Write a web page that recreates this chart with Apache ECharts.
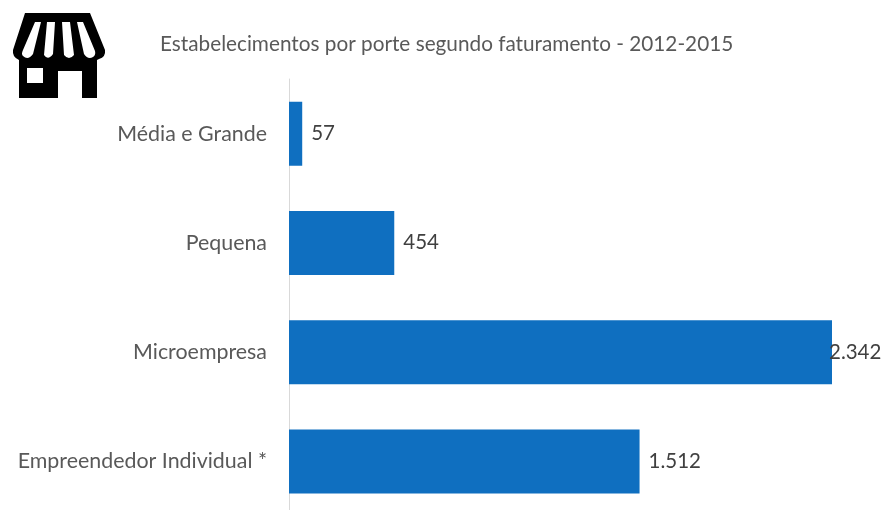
<!DOCTYPE html>
<html>
<head>
<meta charset="utf-8">
<style>
  html, body { margin: 0; padding: 0; background: #fff; overflow: hidden; }
  #chart { width: 885px; height: 520px; }
</style>
<script src="https://cdn.jsdelivr.net/npm/echarts@6/dist/echarts.min.js"></script>
</head>
<body>
<div id="chart"></div>
<script>
const titleText = 'Estabelecimentos por porte segundo faturamento - 2012-2015'
const categories = ['Média e Grande', 'Pequena', 'Microempresa', 'Empreendedor Individual *']
const values = [57, 454, 2342, 1512]
const valueLabels = ['57', '454', '2.342', '1.512']

const chart = echarts.init(document.getElementById('chart'))
const fontName = 'Lato, "Noto Sans", sans-serif'

// loja: toldo + corpo em preto, listras e janela/porta em branco
const shopBody = 'M25 13 L90 13 L105 50 Q106 57 99 59 L97 60 L97 98 L82 98 L82 71 L58 71 L58 98 L19 98 L19 60 Q12 57 13 50 Z'
const shopWhite = 'M35 22 L41 22 L33 54 Q28 61 23 56 Q21 54 23 50 Z '
  + 'M47 22 L55 22 L53 54 Q48 61 44 55 Z '
  + 'M62 22 L70 22 L74 55 Q69 61 64 55 Z '
  + 'M77 22 L83 22 L95 51 Q96 55 93 57 Q88 60 84 54 Z '
  + 'M27 68 L43 68 L43 83 L27 83 Z'

echarts.graphic.registerShape('shopBody', echarts.graphic.extendPath(shopBody))
echarts.graphic.registerShape('shopWhite', echarts.graphic.extendPath(shopWhite))

// só o rótulo da Microempresa encosta na barra, como no original
const barData = values.map(v => (
  v === Math.max(...values) ? { value: v, label: { distance: -3 } } : v
))

chart.setOption({
  animation: false,
  textStyle: { fontFamily: fontName },
  title: {
    text: titleText,
    left: 155,
    top: 29,
    textStyle: { color: '#595959', fontSize: 20.75, fontWeight: 'normal', fontFamily: fontName }
  },
  grid: { left: 289, width: 543, top: 79, height: 437 },
  xAxis: { type: 'value', min: 0, max: 2342, show: false },
  yAxis: {
    type: 'category',
    inverse: true,
    data: categories,
    axisLine: { lineStyle: { color: '#d9d9d9', width: 1 } },
    axisTick: { show: false },
    axisLabel: { color: '#595959', fontSize: 21.4, margin: 22 }
  },
  series: [{
    type: 'bar',
    data: barData,
    barWidth: 64,
    itemStyle: { color: '#0f6fc0' },
    label: {
      show: true,
      position: 'right',
      distance: 9,
      color: '#404040',
      fontSize: 20.5,
      formatter: p => valueLabels[p.dataIndex]
    }
  }],
  graphic: [
    { type: 'shopBody', style: { fill: '#000' } },
    { type: 'shopWhite', style: { fill: '#fff' } }
  ]
})
</script>
</body>
</html>
